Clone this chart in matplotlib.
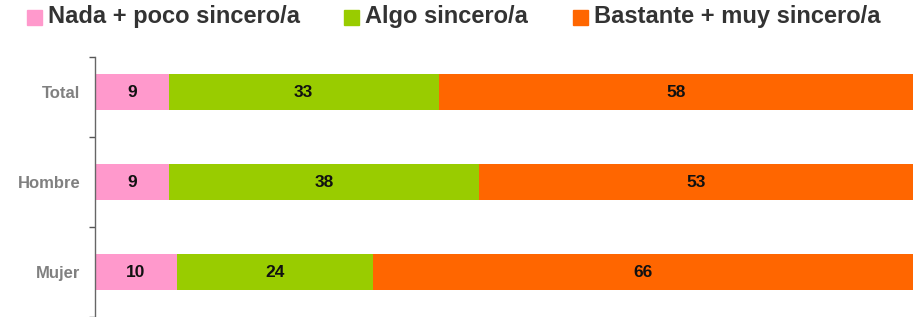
import matplotlib
matplotlib.use("Agg")
import matplotlib.pyplot as plt
from matplotlib.patches import Rectangle

categories = ["Total", "Hombre", "Mujer"]
series_names = ["Nada + poco sincero/a", "Algo sincero/a", "Bastante + muy sincero/a"]
nada = [9, 9, 10]
algo = [33, 38, 24]
bastante = [58, 53, 66]
colors = ["#FF99CC", "#99CC00", "#FF6600"]

plt.rcParams['font.family'] = ['Liberation Sans', 'DejaVu Sans']

W, H = 916, 317
fig = plt.figure(figsize=(W / 100, H / 100), dpi=100)
ax = fig.add_axes([95 / W, 0, (913 - 95) / W, 1 - 57 / H])

ypos = [2, 1, 0]
series = [nada, algo, bastante]
left = [0, 0, 0]
for vals, col in zip(series, colors):
    ax.barh(ypos, vals, left=left, height=0.4, color=col, edgecolor='none')
    for y, v, l in zip(ypos, vals, left):
        ax.text(l + v / 2, y, str(v), ha='center', va='center',
                fontsize=12.5, fontweight='bold', color='#111111')
    left = [a + b for a, b in zip(left, vals)]

ax.set_xlim(0, 100)
ax.set_ylim(-0.5, 2.389)
ax.set_xticks([])
ax.set_yticks(ypos)
ax.set_yticklabels(categories, fontsize=12, fontweight='bold', color='#808080')
ax.tick_params(axis='y', which='major', length=0, pad=10.5)
ax.set_yticks([-0.5, 0.5, 1.5, 2.389], minor=True)
ax.tick_params(axis='y', which='minor', length=4, width=1, color='#555555', direction='out')
for s in ['top', 'right', 'bottom']:
    ax.spines[s].set_visible(False)
ax.spines['left'].set_color('#666666')
ax.spines['left'].set_linewidth(1)

# legend
leg_x = [27, 344, 573]
for x, name, col in zip(leg_x, series_names, colors):
    fig.patches.append(Rectangle((x / W, 1 - 25 / H), 15 / W, 15 / H,
                                 transform=fig.transFigure, color=col))
    fig.text((x + 21) / W, 1 - 17 / H, name, ha='left', va='center',
             fontsize=17, fontweight='bold', color='#333333')

fig.savefig("out.png", dpi=100)
